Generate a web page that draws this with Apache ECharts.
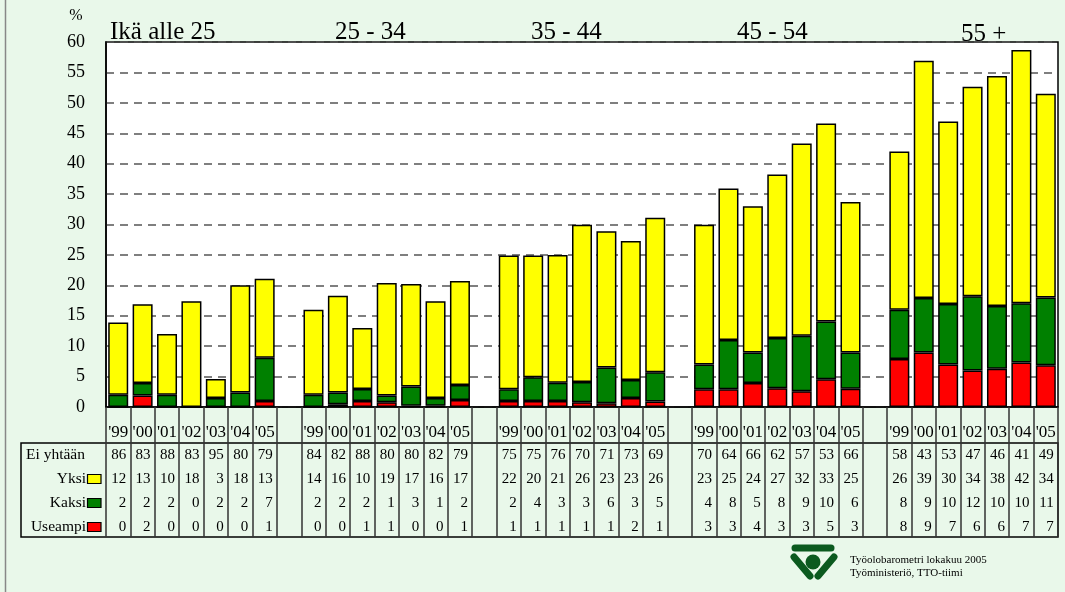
<!DOCTYPE html>
<html><head><meta charset="utf-8">
<script src="https://cdn.jsdelivr.net/npm/echarts@6/dist/echarts.min.js"></script>
<style>html,body{margin:0;padding:0;background:#e9f8ea;} #c{width:1065px;height:592px;}</style>
</head><body><div id="c"></div>
<script>
// ---- data ----
const groups = ['Ikä alle 25', '25 - 34', '35 - 44', '45 - 54', '55 +'];
const years = ["'99", "'00", "'01", "'02", "'03", "'04", "'05"];
// bar heights (%), 7 years per age group
const barUseampi = [0, 1.9, 0, 0, 0, 0, 1.0,
  0, 0.45, 1.0, 0.8, 0.2, 0.2, 1.15,
  1.0, 1.0, 1.0, 0.8, 0.6, 1.5, 0.9,
  2.9, 2.9, 3.95, 3.1, 2.6, 4.55, 3.0,
  7.9, 8.95, 7.0, 6.0, 6.3, 7.3, 6.85];
const barKaksi = [2.0, 2.05, 2.0, 0, 1.5, 2.4, 7.1,
  2.0, 1.95, 1.95, 1.1, 3.15, 1.3, 2.45,
  1.9, 3.9, 3.0, 3.3, 5.9, 2.95, 4.8,
  4.1, 8.1, 5.0, 8.25, 9.1, 9.5, 5.95,
  8.1, 8.95, 9.95, 12.2, 10.3, 9.75, 11.15];
const barYksi = [11.9, 12.95, 10.0, 17.4, 3.1, 17.6, 13.0,
  14.0, 15.9, 10.05, 18.5, 16.85, 15.9, 17.1,
  22.0, 20.0, 21.0, 25.85, 22.4, 22.85, 25.4,
  22.95, 24.9, 24.05, 26.85, 31.6, 32.55, 24.75,
  26.0, 39.0, 30.0, 34.45, 37.8, 41.65, 33.5];
// table rows
const rowNames = ['Ei yhtään', 'Yksi', 'Kaksi', 'Useampi'];
const tblEiYhtaan = [86, 83, 88, 83, 95, 80, 79, 84, 82, 88, 80, 80, 82, 79, 75, 75, 76, 70, 71, 73, 69,
  70, 64, 66, 62, 57, 53, 66, 58, 43, 53, 47, 46, 41, 49];
const tblYksi = [12, 13, 10, 18, 3, 18, 13, 14, 16, 10, 19, 17, 16, 17, 22, 20, 21, 26, 23, 23, 26,
  23, 25, 24, 27, 32, 33, 25, 26, 39, 30, 34, 38, 42, 34];
const tblKaksi = [2, 2, 2, 0, 2, 2, 7, 2, 2, 2, 1, 3, 1, 2, 2, 4, 3, 3, 6, 3, 5,
  4, 8, 5, 8, 9, 10, 6, 8, 9, 10, 12, 10, 10, 11];
const tblUseampi = [0, 2, 0, 0, 0, 0, 1, 0, 0, 1, 1, 0, 0, 1, 1, 1, 1, 1, 1, 2, 1,
  3, 3, 4, 3, 3, 5, 3, 8, 9, 7, 6, 6, 7, 7];
const yTicks = [0, 5, 10, 15, 20, 25, 30, 35, 40, 45, 50, 55, 60];
const sourceLines = ['Työolobarometri lokakuu 2005', 'Työministeriö, TTO-tiimi'];

// ---- build categories with gap columns ----
const cats = [], catIdx = [];
groups.forEach((g, gi) => {
  years.forEach((y, yi) => { catIdx.push(cats.length); cats.push(y); });
  if (gi < groups.length - 1) cats.push('');
});
function spread(arr) {
  const out = cats.map(() => null);
  arr.forEach((v, i) => { out[catIdx[i]] = v; });
  return out;
}
const FONT = 'Liberation Serif';
const colors = { Yksi: '#ffff00', Kaksi: '#008000', Useampi: '#ff0000' };

const chart = echarts.init(document.getElementById('c'));
const barStyle = c => ({ color: c, borderColor: '#000', borderWidth: 1.5 });
const option = {
  animation: false,
  backgroundColor: '#e9f8ea',
  grid: { left: 106, right: 7, top: 42, bottom: 185, show: true, backgroundColor: '#ffffff', borderColor: '#000', borderWidth: 1.5 },
  xAxis: {
    type: 'category', data: cats, boundaryGap: true,
    axisLine: { lineStyle: { color: '#000', width: 1.5 } },
    axisTick: { show: true, interval: 0, length: 130, lineStyle: { color: '#333', width: 1.5 } },
    axisLabel: { interval: 0, margin: 17, fontFamily: FONT, fontSize: 17, color: '#000' }
  },
  yAxis: {
    type: 'value', min: yTicks[0], max: yTicks[yTicks.length - 1], interval: 5,
    axisLine: { show: true, lineStyle: { color: '#000', width: 1.5 } },
    axisTick: { show: false },
    axisLabel: { margin: 21, fontFamily: FONT, fontSize: 18, color: '#000' },
    splitLine: { show: true, lineStyle: { color: '#555', width: 1.5, type: [8, 6] } }
  },
  series: [
    { name: 'Useampi', type: 'bar', stack: 't', barWidth: 20, data: spread(barUseampi), itemStyle: barStyle(colors.Useampi) },
    { name: 'Kaksi', type: 'bar', stack: 't', barWidth: 20, data: spread(barKaksi), itemStyle: barStyle(colors.Kaksi) },
    { name: 'Yksi', type: 'bar', stack: 't', barWidth: 20, data: spread(barYksi), itemStyle: barStyle(colors.Yksi) }
  ]
};
chart.setOption(option);

// ---- overlay: titles, table, source ----
const gfx = [];
const txt = (x, y, text, size, align, base) => ({
  type: 'text', x: x, y: y, silent: true,
  style: { text: text, fontFamily: FONT, fontSize: size, fill: '#000', align: align || 'left', verticalAlign: base || 'middle' }
});
// outer frame line
gfx.push({ type: 'line', shape: { x1: 5.5, y1: 0, x2: 5.5, y2: 592 }, style: { stroke: '#888', lineWidth: 1.5 } });
// "%"
gfx.push(txt(76, 16, '%', 16, 'center'));
// group titles
const titleX = [110, 335, 531, 737, 961];
const titleY = [20, 20, 20, 20, 22];
groups.forEach((g, i) => gfx.push(txt(titleX[i], titleY[i], g, 25, 'left', 'top')));
// table box
gfx.push({ type: 'rect', shape: { x: 21, y: 443, width: 1037, height: 94 }, style: { fill: 'none', stroke: '#000', lineWidth: 1.5 } });
const rowY = [455, 479, 503, 527];
const rows = [tblEiYhtaan, tblYksi, tblKaksi, tblUseampi];
const rowColors = [null, colors.Yksi, colors.Kaksi, colors.Useampi];
rowNames.forEach((n, r) => {
  if (r === 0) gfx.push(txt(26, rowY[r], n, 15.5, 'left'));
  else {
    gfx.push(txt(86, rowY[r], n, 15.5, 'right'));
    gfx.push({ type: 'rect', shape: { x: 87.5, y: rowY[r] - 4.5, width: 13.5, height: 9 }, style: { fill: rowColors[r], stroke: '#000', lineWidth: 1.2 } });
  }
  rows[r].forEach((v, i) => {
    const cx = chart.convertToPixel({ xAxisIndex: 0 }, catIdx[i]);
    gfx.push(txt(cx + 8, rowY[r], String(v), 15, 'right'));
  });
});
// source + logo
gfx.push(txt(850, 560, sourceLines[0], 11, 'left'));
gfx.push(txt(850, 573, sourceLines[1], 11, 'left'));
const lg = '#0b5a1f';
gfx.push({ type: 'line', shape: { x1: 795, y1: 548, x2: 831, y2: 548 }, style: { stroke: lg, lineWidth: 7, lineCap: 'round' } });
gfx.push({ type: 'line', shape: { x1: 794, y1: 557, x2: 810, y2: 576 }, style: { stroke: lg, lineWidth: 7, lineCap: 'round' } });
gfx.push({ type: 'line', shape: { x1: 834, y1: 557, x2: 818, y2: 576 }, style: { stroke: lg, lineWidth: 7, lineCap: 'round' } });
gfx.push({ type: 'circle', shape: { cx: 813, cy: 562, r: 7.5 }, style: { fill: lg } });
chart.setOption({ graphic: gfx });
</script>
</body></html>
